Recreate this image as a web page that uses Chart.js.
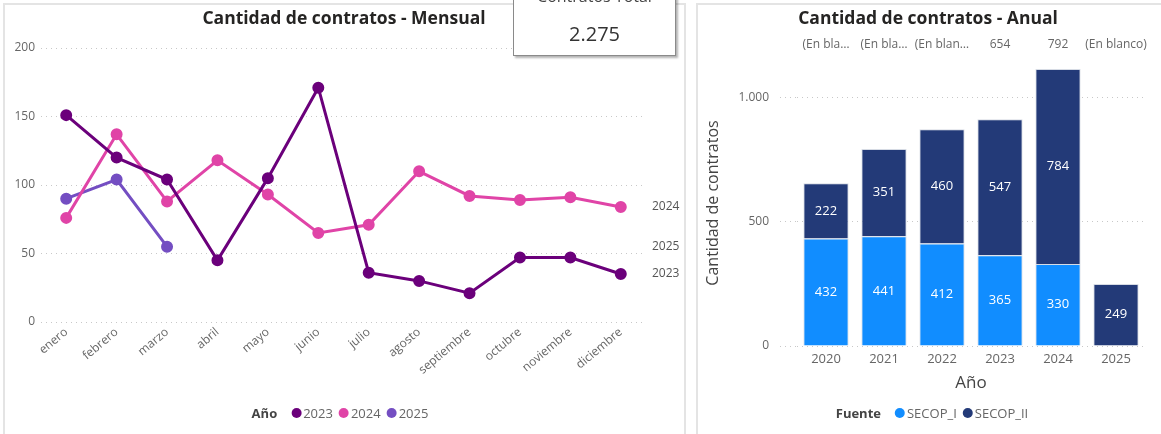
<!DOCTYPE html>
<html>
<head>
<meta charset="utf-8">
<script src="https://cdn.jsdelivr.net/npm/chart.js@4.4.1/dist/chart.umd.min.js"></script>
<style>
  body { margin: 0; width: 1161px; height: 434px; overflow: hidden; background: #fff; position: relative; font-family: 'Open Sans', sans-serif; }
  .panel { position: absolute; top: 3px; height: 445px; border: 2px solid #e4e4e4; box-sizing: border-box; }
  canvas { position: absolute; }
  .card { position: absolute; left: 513px; top: -12px; width: 163px; height: 68px; background: #fff; border: 1px solid #8a8a8a; box-shadow: 2px 2px 2px rgba(0,0,0,0.3); box-sizing: border-box; text-align: center; color: #333; z-index: 5; }
  .card .t { font-size: 16px; line-height: 20px; margin-top: -3px; color: #444; }
  .card .v { font-size: 20px; line-height: 26px; margin-top: 15px; color: #333; }
  .legend { position: absolute; font-size: 13px; color: #666; white-space: nowrap; display: flex; align-items: center; transform: translateX(-50%); }
  .legend b { color: #444; margin-right: 8px; }
  .legend .dot { width: 10px; height: 10px; border-radius: 50%; display: inline-block; margin: 0 2px 0 6px; }
</style>
</head>
<body>
<div class="panel" style="left:3px;width:683px"></div>
<div class="panel" style="left:696px;width:470px"></div>
<div class="card"><div class="t">Contratos Total</div><div class="v" id="total"></div></div>
<canvas id="mensual" width="678" height="427" style="left:5px;top:5px;width:678px;height:427px"></canvas>
<canvas id="anual" width="460" height="427" style="left:698px;top:5px;width:460px;height:427px"></canvas>
<div class="legend" id="legMensual" style="left:340px;top:404px"></div>
<div class="legend" id="legAnual" style="left:932px;top:404px"></div>
<script>
// Datos mensuales por año
const meses = ['enero', 'febrero', 'marzo', 'abril', 'mayo', 'junio', 'julio', 'agosto', 'septiembre', 'octubre', 'noviembre', 'diciembre'];
const serie2023 = [151, 120, 104, 45, 105, 171, 36, 30, 21, 47, 47, 35];
const serie2024 = [76, 137, 88, 118, 93, 65, 71, 110, 92, 89, 91, 84];
const serie2025 = [90, 104, 55];
const nombresAnio = ['2023', '2024', '2025'];
const coloresAnio = ['#6B007B', '#E044A7', '#744EC2'];
const ticksMensual = [0, 50, 100, 150, 200];

// Datos anuales por fuente
const anios = ['2020', '2021', '2022', '2023', '2024', '2025'];
const secopI = [432, 441, 412, 365, 330, null];
const secopII = [222, 351, 460, 547, 784, 249];
const etiquetasTotal = ['(En bla…', '(En bla…', '(En blan…', '654', '792', '(En blanco)'];
const ticksAnual = [0, 500, 1000];
const fuentes = ['SECOP_I', 'SECOP_II'];
const coloresFuente = ['#118DFF', '#233A78'];
const totalContratos = '2.275';

const FONT = "'Open Sans', sans-serif";
Chart.defaults.font.family = FONT;
Chart.defaults.color = '#666';

document.getElementById('total').textContent = totalContratos;

// separador de miles con punto
const miles = v => String(v).replace(/\B(?=(\d{3})+(?!\d))/g, '.');

function leyenda(id, titulo, nombres, colores) {
    const el = document.getElementById(id);
    el.innerHTML = `<b>${titulo}</b>` + nombres.map((n, i) =>
        `<span class="dot" style="background:${colores[i]}"></span><span>${n}</span>`).join('');
}
leyenda('legMensual', 'Año', nombresAnio, coloresAnio);
leyenda('legAnual', 'Fuente', fuentes, coloresFuente);

// eje vacío a la derecha, solo reserva espacio (así el título queda centrado en el panel)
const ejeHueco = w => ({
    position: 'right',
    grid: { display: false },
    border: { display: false },
    ticks: { display: false },
    afterFit: s => { s.width = w; }
});

// Etiqueta del año al final de cada línea
const etiquetaFinal = {
    id: 'etiquetaFinal',
    afterDatasetsDraw(chart) {
        const ctx = chart.ctx;
        ctx.save();
        ctx.font = `12px ${FONT}`;
        ctx.fillStyle = '#555';
        ctx.textBaseline = 'middle';
        chart.data.datasets.forEach((ds, i) => {
            const pts = chart.getDatasetMeta(i).data;
            const last = pts[pts.length - 1];
            ctx.fillText(ds.label, chart.chartArea.right + 6, last.y);
        });
        ctx.restore();
    }
};

// Valores dentro de las barras y etiquetas de total arriba
const etiquetasBarras = {
    id: 'etiquetasBarras',
    afterDatasetsDraw(chart) {
        const ctx = chart.ctx;
        ctx.save();
        ctx.textAlign = 'center';
        ctx.textBaseline = 'middle';
        ctx.font = `13px ${FONT}`;
        ctx.fillStyle = '#fff';
        chart.data.datasets.forEach((ds, i) => {
            chart.getDatasetMeta(i).data.forEach((bar, j) => {
                if (ds.data[j] == null) return;
                ctx.fillText(ds.data[j], bar.x, (bar.y + bar.base) / 2);
            });
        });
        ctx.font = `12px ${FONT}`;
        ctx.fillStyle = '#666';
        const xs = chart.scales.x;
        etiquetasTotal.forEach((t, j) => {
            ctx.fillText(t, xs.getPixelForValue(j), 40);
        });
        ctx.restore();
    }
};

new Chart(document.getElementById('mensual'), {
    type: 'line',
    data: {
        labels: meses,
        datasets: [serie2023, serie2024, serie2025].map((d, i) => ({
            label: nombresAnio[i],
            data: d,
            borderColor: coloresAnio[i],
            backgroundColor: coloresAnio[i],
            borderWidth: 3,
            pointRadius: 4.5,
            pointHoverRadius: 4.5,
            tension: 0
        }))
    },
    options: {
        responsive: false,
        animation: false,
        layout: { padding: { left: 0, right: 0, top: 0, bottom: 50 } },
        plugins: {
            legend: { display: false },
            tooltip: { enabled: false },
            title: {
                display: true,
                text: 'Cantidad de contratos - Mensual',
                color: '#252423',
                font: { size: 17.5, weight: 'bold', family: FONT },
                padding: { top: 4, bottom: 18 }
            }
        },
        scales: {
            x: {
                offset: true,
                grid: { display: false, drawTicks: false },
                border: { display: false },
                ticks: { minRotation: 40, maxRotation: 40, padding: 3, color: '#666', font: { size: 12 } },
                afterFit: s => { s.height = 60; }
            },
            y: {
                min: 0, max: 200,
                afterBuildTicks: s => { s.ticks = ticksMensual.map(v => ({ value: v })); },
                grid: { color: '#c8c8c8', drawTicks: false },
                border: { display: false, dash: [1, 4] },
                ticks: { padding: 6, color: '#666', font: { size: 12 } },
                afterFit: s => { s.width = 36; }
            },
            hueco: ejeHueco(37)
        }
    },
    plugins: [etiquetaFinal]
});

new Chart(document.getElementById('anual'), {
    type: 'bar',
    data: {
        labels: anios,
        datasets: [secopI, secopII].map((d, i) => ({
            label: fuentes[i],
            data: d,
            backgroundColor: coloresFuente[i],
            borderColor: 'rgba(210,215,225,0.9)',
            borderWidth: 1,
            barPercentage: 0.78,
            categoryPercentage: 1
        }))
    },
    options: {
        responsive: false,
        animation: false,
        layout: { padding: { left: 0, right: 0, top: 0, bottom: 26 } },
        plugins: {
            legend: { display: false },
            tooltip: { enabled: false },
            title: {
                display: true,
                text: 'Cantidad de contratos - Anual',
                color: '#252423',
                font: { size: 17.5, weight: 'bold', family: FONT },
                padding: { top: 4, bottom: 30 }
            }
        },
        scales: {
            x: {
                stacked: true,
                grid: { display: false, drawTicks: false },
                border: { display: false },
                ticks: { padding: 5, color: '#666', font: { size: 13 } },
                title: { display: true, text: 'Año', color: '#444', font: { size: 17 }, padding: { top: 4, bottom: 13 } },
                afterFit: s => { s.height = 60; }
            },
            y: {
                stacked: true,
                min: 0, max: 1150,
                afterBuildTicks: s => { s.ticks = ticksAnual.map(v => ({ value: v })); },
                ticks: { padding: 11, color: '#666', font: { size: 12 }, callback: v => miles(v) },
                grid: { color: '#c8c8c8', tickLength: 17, tickColor: '#c8c8c8', tickBorderDash: [1, 4] },
                border: { display: false, dash: [1, 4] },
                title: { display: true, text: 'Cantidad de contratos', color: '#444', font: { size: 16 }, padding: { top: 6, bottom: 0 } },
                afterFit: s => { s.width = 99; }
            },
            hueco: ejeHueco(13)
        }
    },
    plugins: [etiquetasBarras]
});
</script>
</body>
</html>
